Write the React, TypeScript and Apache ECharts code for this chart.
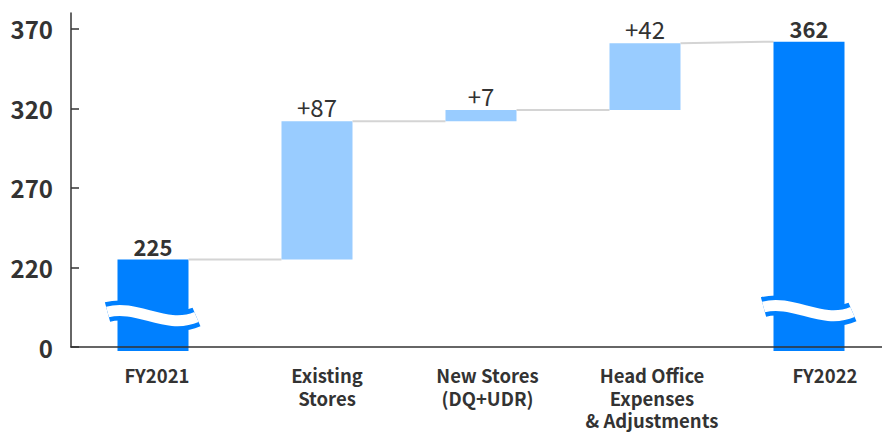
import React, { useEffect, useRef } from "react";
import * as echarts from "echarts";

const categories = [
  "FY2021",
  "Existing\nStores",
  "New Stores\n(DQ+UDR)",
  "Head Office\nExpenses\n& Adjustments",
  "FY2022",
];
const kinds = ["total", "delta", "delta", "delta", "total"];
const values = [225, 87, 7, 42, 362];
const valueLabels = ["225", "+87", "+7", "+42", "362"];
const yTickValues = [170, 220, 270, 320, 370];
const axisFloor = 170; // broken axis: shown as "0"
const axisTop = 380;

const DARK = "#0080ff";
const LIGHT = "#99ccff";
const TEXT = "#333333";
const FONT = "'Noto Sans CJK JP', 'Noto Sans', sans-serif";

// build waterfall start/end pairs
const starts: number[] = [];
const ends: number[] = [];
{
  let run = 0;
  for (let i = 0; i < values.length; i++) {
    if (kinds[i] === "total") {
      starts.push(axisFloor);
      ends.push(values[i]);
      run = values[i];
    } else {
      starts.push(run);
      ends.push(run + values[i]);
      run = run + values[i];
    }
  }
}
const seriesData = values.map((_, i) => [i, starts[i], ends[i]]);

const WAVE_OFFSET = [35, 0, 0, 0, 40];
const LABEL_DX = [4, 10, 6.5, 7, 16];

export default function App() {
  const ref = useRef<HTMLDivElement>(null);
  useEffect(() => {
    if (!ref.current) return;
    const chart = echarts.init(ref.current, undefined, { renderer: "svg" });
    const option: any = {
      animation: false,
      backgroundColor: "#ffffff",
      grid: {
        left: 71,
        top: 13,
        width: 820,
        height: 334,
        containLabel: false,
        outerBoundsMode: "none",
      },
      xAxis: {
        type: "category",
        data: categories,
        z: 10,
        axisLine: { lineStyle: { color: TEXT, width: 1.5 } },
        axisTick: { show: false },
        axisLabel: { show: false },
      },
      yAxis: {
        type: "value",
        min: axisFloor,
        max: axisTop,
        z: 10,
        splitLine: { show: false },
        axisLine: { show: true, lineStyle: { color: TEXT, width: 1.5 } },
        axisTick: {
          show: true,
          inside: true,
          length: 8,
          customValues: yTickValues,
          lineStyle: { color: TEXT, width: 1.5 },
        },
        axisLabel: {
          customValues: yTickValues,
          color: TEXT,
          fontFamily: FONT,
          fontWeight: "bold",
          fontSize: 24,
          margin: 18,
          formatter: (v: number) => (v === axisFloor ? "0" : String(v)),
        },
      },
      series: [
        {
          type: "custom",
          clip: false,
          data: seriesData,
          encode: { x: 0, y: [1, 2] },
          renderItem: (params: any, api: any) => {
            const i = api.value(0);
            const s = api.value(1);
            const e = api.value(2);
            const pS = api.coord([i, s]);
            const pE = api.coord([i, e]);
            const pBase = api.coord([i, axisFloor]);
            const band = api.size([1, 0])[0];
            const bw = band * 0.433;
            const cx = pS[0];
            const isTotal = kinds[i] === "total";
            const yBottom = isTotal ? pS[1] + 4 : pS[1];
            const children: any[] = [];
            children.push({
              type: "rect",
              shape: { x: cx - bw / 2, y: pE[1], width: bw, height: yBottom - pE[1] },
              style: { fill: isTotal ? DARK : LIGHT },
            });
            if (i < values.length - 1) {
              const target = kinds[i + 1] === "total" ? ends[i + 1] : starts[i + 1];
              const pT = api.coord([i + 1, target]);
              children.push({
                type: "line",
                shape: { x1: cx + bw / 2, y1: pE[1], x2: pT[0] - bw / 2, y2: pT[1] },
                style: { stroke: "#d4d4d4", lineWidth: 2 },
              });
            }
            if (isTotal) {
              const x0 = cx - bw / 2 - 10;
              const W = bw + 18;
              const yc = pS[1] - WAVE_OFFSET[i];
              const shape = {
                x1: x0,
                y1: yc,
                cpx1: x0 + W * 0.33,
                cpy1: yc - 8,
                cpx2: x0 + W * 0.66,
                cpy2: yc + 18,
                x2: x0 + W,
                y2: yc + 5,
              };
              children.push({
                type: "bezierCurve",
                shape,
                style: { stroke: DARK, lineWidth: 20, fill: null },
              });
              children.push({
                type: "bezierCurve",
                shape,
                style: { stroke: "#ffffff", lineWidth: 11, fill: null },
              });
            }
            children.push({
              type: "text",
              x: cx,
              y: pE[1] - 3,
              style: {
                text: valueLabels[i],
                align: "center",
                verticalAlign: "bottom",
                fill: TEXT,
                fontFamily: FONT,
                fontWeight: isTotal ? "bold" : "normal",
                fontSize: isTotal ? 22 : 24,
              },
            });
            children.push({
              type: "text",
              x: cx + LABEL_DX[i],
              y: pBase[1] + 17,
              style: {
                text: categories[i],
                align: "center",
                verticalAlign: "top",
                fill: TEXT,
                fontFamily: FONT,
                fontWeight: "bold",
                fontSize: 18.5,
                lineHeight: 22.5,
              },
            });
            return { type: "group", children };
          },
        },
      ],
    };
    chart.setOption(option);
    return () => chart.dispose();
  }, []);
  return (
    <div
      ref={ref}
      style={{ position: "fixed", left: 0, top: 0, width: 882, height: 432 }}
    />
  );
}
